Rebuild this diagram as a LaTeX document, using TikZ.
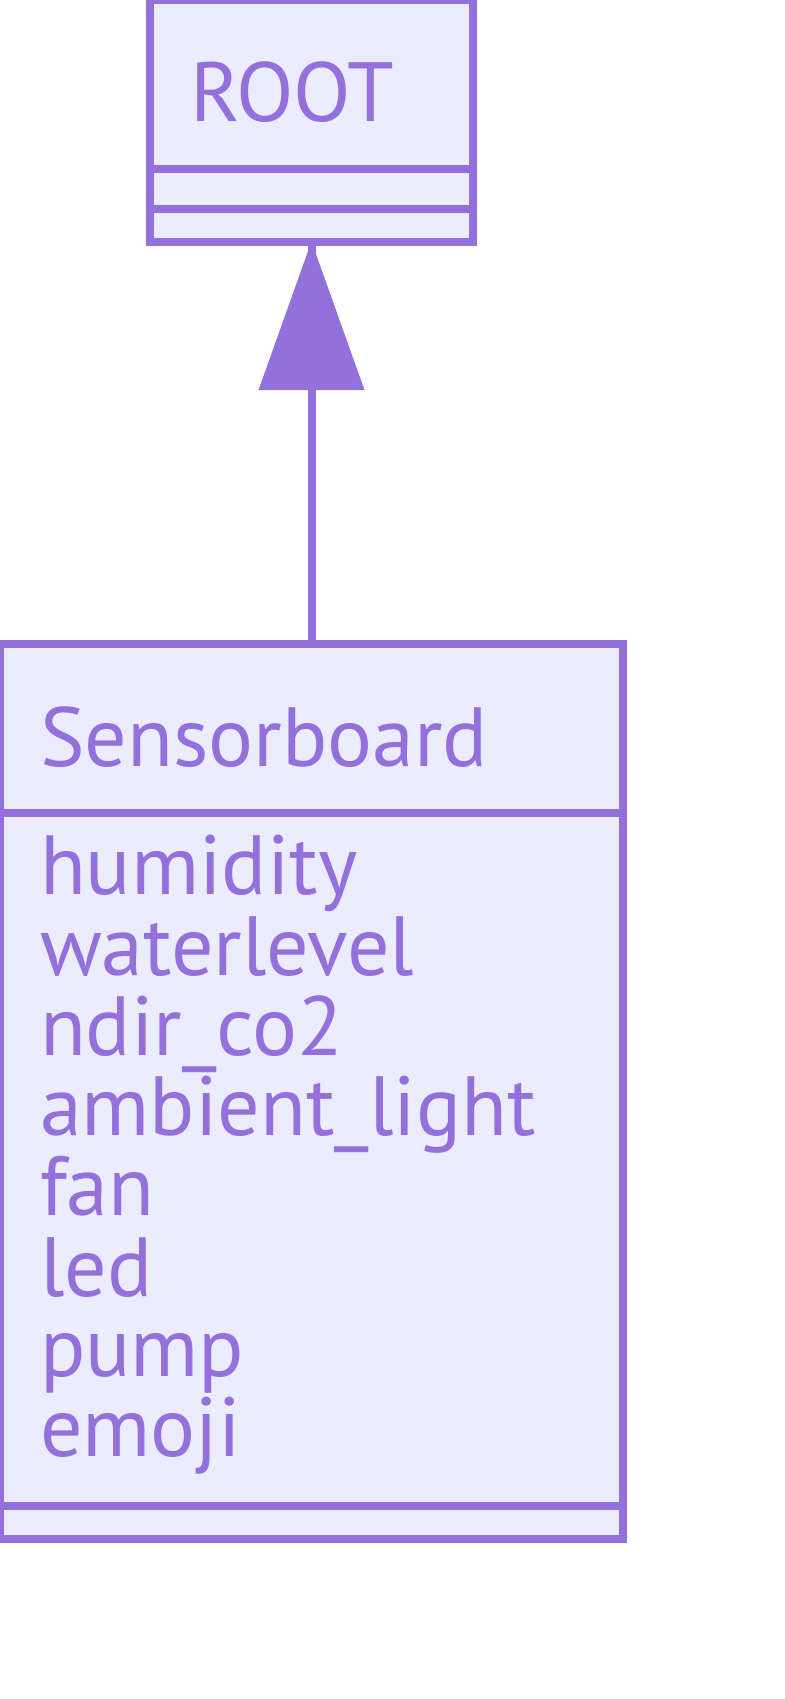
\documentclass[tikz,border=0pt]{standalone}
\usepackage{fontspec}
\setmainfont{PT Sans}
\definecolor{mstroke}{HTML}{9370DB}
\definecolor{mfill}{HTML}{ECECFF}
\begin{document}
\begin{tikzpicture}[x=1pt,y=-1pt,
  classbox/.style={draw=mstroke, fill=mfill, line width=8pt, rectangle, inner sep=0pt, outer sep=0pt},
  divider/.style={draw=mstroke, line width=8pt},
  lbl/.style={anchor=base west, inner sep=0pt, outer sep=0pt, text=mstroke, font=\fontsize{84}{100}\selectfont},
  conn/.style={draw=mstroke, line width=8pt},
  tri/.style={fill=mstroke}]
\useasboundingbox (0,0) rectangle (784,1699);
% boxes
\node[classbox, minimum width=323pt, minimum height=241.5pt] (root) at (311.5,120.75) {};
\node[classbox, minimum width=623pt, minimum height=895pt] (sensor) at (311.5,1091.5) {};
% divider positions
\coordinate (r1) at (0,169);
\coordinate (r2) at (0,209);
\coordinate (s1) at (0,813);
\coordinate (s2) at (0,1506);
\draw[divider] (root.west |- r1) -- (root.east |- r1);
\draw[divider] (root.west |- r2) -- (root.east |- r2);
\draw[divider] (sensor.west |- s1) -- (sensor.east |- s1);
\draw[divider] (sensor.west |- s2) -- (sensor.east |- s2);
% inheritance connector
\draw[conn] (sensor.north) -- (root.south);
\fill[tri] (root.south) -- ++(-53,148.5) -- ++(106,0) -- cycle;
% texts
\node[lbl] (troot) at (190,122) {ROOT};
\node[lbl] (tsensor) at (40,766) {Sensorboard};
\node[lbl] (a1) at (40,894) {humidity};
\node[lbl] (a2) at (40,975) {waterlevel};
\node[lbl] (a3) at (40,1055) {ndir\_co2};
\node[lbl] (a4) at (40,1135) {ambient\_light};
\node[lbl] (a5) at (40,1215.5) {fan};
\node[lbl] (a6) at (40,1296) {led};
\node[lbl] (a7) at (40,1376) {pump};
\node[lbl] (a8) at (40,1456.5) {emoji};
\end{tikzpicture}
\end{document}
